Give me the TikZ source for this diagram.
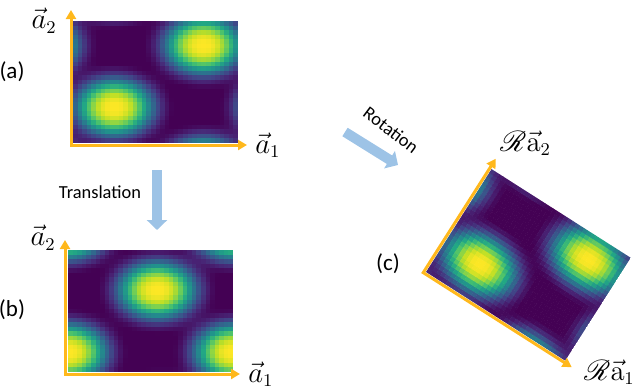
\documentclass[tikz,border=0pt]{standalone}
\usepackage[no-math]{fontspec}
\setmainfont{Carlito}
\usepackage{amsmath}
\usepackage{mathrsfs}
\usetikzlibrary{positioning,arrows.meta,calc}
\definecolor{axisorange}{RGB}{255,184,28}
\definecolor{arrowblue}{RGB}{157,195,230}
\definecolor{vir0}{HTML}{440154}
\definecolor{vir1}{HTML}{482475}
\definecolor{vir2}{HTML}{414487}
\definecolor{vir3}{HTML}{355F8D}
\definecolor{vir4}{HTML}{2A788E}
\definecolor{vir5}{HTML}{21918C}
\definecolor{vir6}{HTML}{22A884}
\definecolor{vir7}{HTML}{44BF70}
\definecolor{vir8}{HTML}{7AD151}
\definecolor{vir9}{HTML}{BDDF26}
\definecolor{vir10}{HTML}{FDE725}
\colorlet{vir11}{vir10}
\tikzset{
  axisline/.style={line width=1.5pt,draw=axisorange,
    {Triangle[width=5pt,length=4.5pt]}-{Triangle[width=5pt,length=4.5pt]}},
  movearrow/.style={line width=5pt,draw=arrowblue,-{Triangle[width=10pt,length=5pt]}},
  movetext/.style={font=\fontsize{9.2}{11}\selectfont,inner sep=0pt},
  veclabel/.style={font=\fontsize{13.5}{15}\selectfont,inner sep=0pt},
}
\newcommand{\viridiscell}[1]{%
  \pgfmathsetmacro\mapt{10*min(max(#1,0),1)}%
  \pgfmathtruncatemacro\mapi{\mapt}%
  \pgfmathtruncatemacro\mapj{\mapi+1}%
  \pgfmathsetmacro\mapp{100*(\mapt-\mapi)}%
  \colorlet{cellc}{vir\mapj!\mapp!vir\mapi}}
\newcommand{\blobmap}[4]{%
  \begin{scope}
    \clip (0,0) rectangle (165,122);
    \foreach \i in {0,...,35}{
      \foreach \j in {0,...,26}{
        \pgfmathsetmacro\ua{(\i+0.5)/36-#1}
        \pgfmathsetmacro\ua{\ua-round(\ua)}
        \pgfmathsetmacro\va{(\j+0.5)/27-#2}
        \pgfmathsetmacro\va{\va-round(\va)}
        \pgfmathsetmacro\ub{(\i+0.5)/36-#3}
        \pgfmathsetmacro\ub{\ub-round(\ub)}
        \pgfmathsetmacro\vb{(\j+0.5)/27-#4}
        \pgfmathsetmacro\vb{\vb-round(\vb)}
        \pgfmathsetmacro\ga{min(((\ua)*(\ua)+(\va)*(\va)+0.0001)/0.055,8)^1.4}
        \pgfmathsetmacro\gb{min(((\ub)*(\ub)+(\vb)*(\vb)+0.0001)/0.055,8)^1.4}
        \pgfmathsetmacro\level{(exp(-\ga)+exp(-\gb)-0.04)/0.96}
        \viridiscell{\level}
        \fill[cellc] ({\i*165/36},{\j*122/27}) rectangle ++(4.9,4.9);
      }}
  \end{scope}}

\begin{document}
\begin{tikzpicture}[x=0.5pt,y=0.5pt,
                    panellabel/.style={font=\fontsize{11.5}{13}\selectfont,inner sep=0pt}]
  \useasboundingbox (0,0) rectangle (640,387);
  \begin{scope}[shift={(73,244)}]
    \blobmap{0.25}{0.29}{0.79}{0.80}
    \coordinate (oa) at (-2,-2);
    \coordinate (a1a) at (174,-2);
    \coordinate (a2a) at (-2,133);
    \draw[axisline] (a2a) -- (oa) -- (a1a);
  \end{scope}
  \begin{scope}[shift={(68,15)}]
    \blobmap{0.0}{0.16}{0.54}{0.67}
    \coordinate (ob) at (-3,-2);
    \coordinate (a1b) at (172,-2);
    \coordinate (a2b) at (-3,132);
    \draw[axisline] (a2b) -- (ob) -- (a1b);
  \end{scope}
  \begin{scope}[shift={(426,115)},rotate=-32.5]
    \blobmap{0.25}{0.29}{0.79}{0.80}
    \coordinate (oc) at (-2,-2);
    \coordinate (a1c) at (174,-2);
    \coordinate (a2c) at (-2,133);
    \draw[axisline] (a2c) -- (oc) -- (a1c);
  \end{scope}
  \node[veclabel,anchor=north east] (laba2) at ($(a2a)+(-14,2)$) {$\vec{a}_2$};
  \node[veclabel,right=4pt of a1a] (laba1) {$\vec{a}_1$};
  \node[veclabel,anchor=north east] (labb2) at ($(a2b)+(-9,15)$) {$\vec{a}_2$};
  \node[veclabel,right=4pt of a1b] (labb1) {$\vec{a}_1$};
  \node[veclabel,anchor=south west] (labc2) at ($(a2c)+(4,3)$) {$\mathscr{R}\vec{\mathrm{a}}_2$};
  \node[veclabel,anchor=north west] (labc1) at ($(a1c)+(12,8)$) {$\mathscr{R}\vec{\mathrm{a}}_1$};
  \node[panellabel] (pa) at (12,315) {(a)};
  \node[panellabel] (pb) at (12,77) {(b)};
  \node[panellabel] (pc) at (388,123) {(c)};
  \coordinate (ttop) at (157,217);
  \coordinate (tbot) at (157,157);
  \draw[movearrow] (ttop) -- (tbot);
  \node[movetext] (translabel) at (100,195) {Translation};
  \coordinate (rstart) at (345,255);
  \coordinate (rend) at (398,222);
  \draw[movearrow] (rstart) -- (rend);
  \node[movetext,rotate=-37] (rotlabel) at (391,257) {Rotation};
\end{tikzpicture}
\end{document}
